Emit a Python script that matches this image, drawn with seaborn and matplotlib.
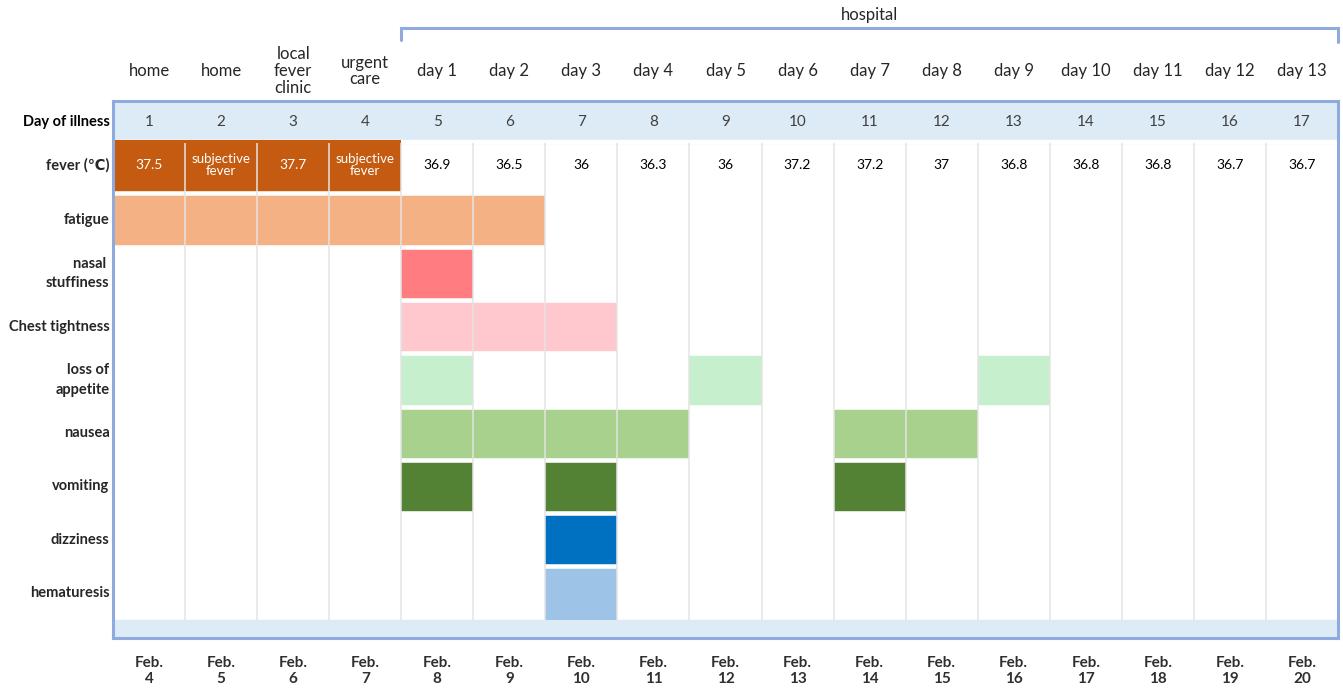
import numpy as np
import matplotlib
matplotlib.use("Agg")
import matplotlib.pyplot as plt
from matplotlib.colors import ListedColormap
import seaborn as sns

# ---- data ----
day_of_illness = [1, 2, 3, 4, 5, 6, 7, 8, 9, 10, 11, 12, 13, 14, 15, 16, 17]
locations = ["home", "home", "local\nfever\nclinic", "urgent\ncare",
             "day 1", "day 2", "day 3", "day 4", "day 5", "day 6", "day 7",
             "day 8", "day 9", "day 10", "day 11", "day 12", "day 13"]
dates = ["Feb.\n4", "Feb.\n5", "Feb.\n6", "Feb.\n7", "Feb.\n8", "Feb.\n9",
         "Feb.\n10", "Feb.\n11", "Feb.\n12", "Feb.\n13", "Feb.\n14", "Feb.\n15",
         "Feb.\n16", "Feb.\n17", "Feb.\n18", "Feb.\n19", "Feb.\n20"]
fever_text = ["37.5", "subjective\nfever", "37.7", "subjective\nfever",
              "36.9", "36.5", "36", "36.3", "36", "37.2", "37.2", "37",
              "36.8", "36.8", "36.8", "36.7", "36.7"]

row_labels = ["fever (\u2103)", "fatigue", "nasal \nstuffiness", "Chest tightness",
              "loss of\nappetite", "nausea", "vomiting", "dizziness", "hematuresis"]

fever_flag       = [1, 1, 1, 1, 0, 0, 0, 0, 0, 0, 0, 0, 0, 0, 0, 0, 0]
fatigue          = [1, 1, 1, 1, 1, 1, 0, 0, 0, 0, 0, 0, 0, 0, 0, 0, 0]
nasal_stuffiness = [0, 0, 0, 0, 1, 0, 0, 0, 0, 0, 0, 0, 0, 0, 0, 0, 0]
chest_tightness  = [0, 0, 0, 0, 1, 1, 1, 0, 0, 0, 0, 0, 0, 0, 0, 0, 0]
loss_of_appetite = [0, 0, 0, 0, 1, 0, 0, 0, 1, 0, 0, 0, 1, 0, 0, 0, 0]
nausea           = [0, 0, 0, 0, 1, 1, 1, 1, 0, 0, 1, 1, 0, 0, 0, 0, 0]
vomiting         = [0, 0, 0, 0, 1, 0, 1, 0, 0, 0, 1, 0, 0, 0, 0, 0, 0]
dizziness        = [0, 0, 0, 0, 0, 0, 1, 0, 0, 0, 0, 0, 0, 0, 0, 0, 0]
hematuresis      = [0, 0, 0, 0, 0, 0, 1, 0, 0, 0, 0, 0, 0, 0, 0, 0, 0]

row_colors = ["#c55a11", "#f4b183", "#ff7c80", "#ffc7ce", "#c6efce",
              "#a9d18e", "#548235", "#0070c0", "#9dc3e6"]

BORDER = "#8faadc"
BAND = "#ddebf7"

sns.set_theme(style="white")
plt.rcParams["font.family"] = ["Lato", "DejaVu Sans"]

presence = np.array([fever_flag, fatigue, nasal_stuffiness, chest_tightness,
                     loss_of_appetite, nausea, vomiting, dizziness, hematuresis])
matrix = presence * np.arange(1, len(row_labels) + 1)[:, None]

fig = plt.figure(figsize=(13.43, 6.88), dpi=100)
ax = fig.add_axes([113 / 1343, 50 / 688, 1225 / 1343, 537 / 688])

sns.heatmap(matrix, mask=(matrix == 0), cmap=ListedColormap(row_colors),
            vmin=0.5, vmax=len(row_labels) + 0.5, cbar=False, ax=ax,
            xticklabels=False, yticklabels=False)

ROW_PX = 53.3
def py(p):
    # pixel row -> data y
    return (p - 140) / ROW_PX

ncol = len(day_of_illness)
ax.set_xlim(0, ncol)
ax.set_ylim(py(638), py(101))

# bands at top (day of illness) and bottom
ax.axhspan(py(101), py(143), color=BAND, zorder=0)
ax.axhspan(len(row_labels), py(638), color=BAND, zorder=0)
ax.axhspan(py(143), 0, color="white", zorder=0.5)

# white gaps between rows and light grey column lines
ax.hlines(np.arange(1, len(row_labels)), 0, ncol, color="white", lw=3.3, zorder=3)
ax.vlines(np.arange(1, ncol), py(143), len(row_labels), color="#e4e4e4",
          lw=1.1, zorder=4)

for s in ax.spines.values():
    s.set_visible(True)
    s.set_color(BORDER)
    s.set_linewidth(2.2)
    s.set_zorder(6)

xs = np.arange(ncol) + 0.5

# day of illness numbers
ax.text(-0.05, py(122), "Day of illness", ha="right", va="center",
        fontsize=10.5, fontweight="bold", color="black")
for x, d in zip(xs, day_of_illness):
    ax.text(x, py(122), str(d), ha="center", va="center", fontsize=11,
            color="#404040")

# fever values
for x, t, f in zip(xs, fever_text, fever_flag):
    if f:
        ax.text(x, py(165), t, ha="center", va="center", color="white",
                fontsize=10 if "\n" not in t else 9.5, linespacing=0.95, zorder=5)
    else:
        ax.text(x, py(165), t, ha="center", va="center", color="black",
                fontsize=10, zorder=5)

# row labels
for i, lab in enumerate(row_labels):
    yy = py(165) if i == 0 else i + 0.5
    ax.text(-0.05, yy, lab, ha="right", va="center", fontsize=10.5,
            fontweight="bold", multialignment="right", linespacing=1.5)

# location headers
for x, lab in zip(xs, locations):
    ax.text(x, py(71), lab, ha="center", va="center", fontsize=12,
            linespacing=1.05)

# dates along the bottom
for x, lab in zip(xs, dates):
    ax.text(x, py(671), lab, ha="center", va="center", fontsize=11,
            fontweight="bold", color="#303030", linespacing=1.25)

# hospital bracket
ax.plot([4, 4, ncol, ncol], [py(40), py(28), py(28), py(42)], color=BORDER,
        lw=2.2, clip_on=False, solid_joinstyle="miter")
ax.text((4 + ncol) / 2, py(15), "hospital", ha="center", va="center",
        fontsize=12)

fig.savefig("out.png", dpi=100)
